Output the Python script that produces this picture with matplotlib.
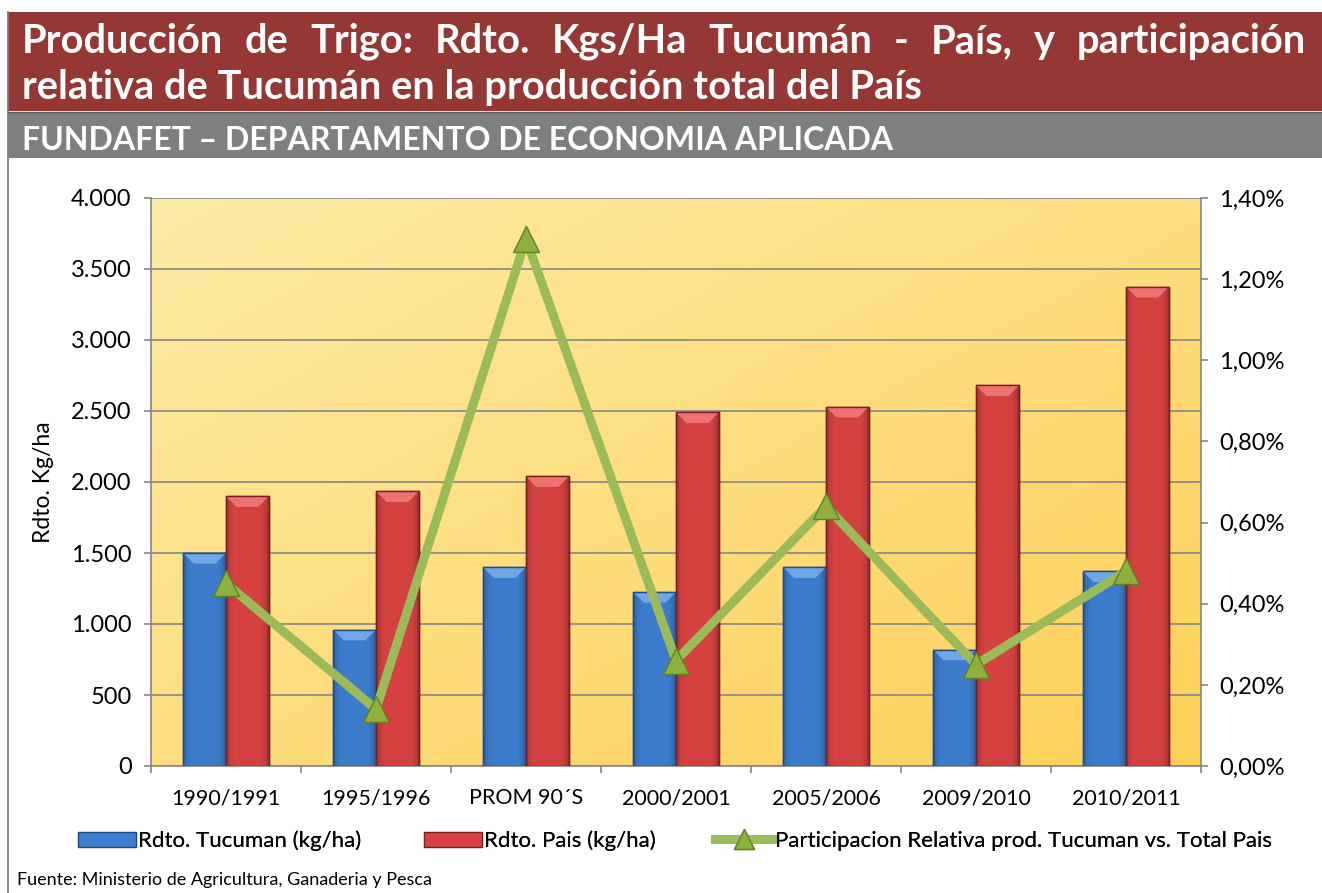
import numpy as np
import matplotlib
matplotlib.use("Agg")
import matplotlib.pyplot as plt
from matplotlib.patches import Rectangle, Polygon
from matplotlib.lines import Line2D
from matplotlib.ticker import FuncFormatter, FixedLocator

# ---------------- data ----------------
categories = ["1990/1991", "1995/1996", "PROM 90´S", "2000/2001", "2005/2006", "2009/2010", "2010/2011"]
rdto_tucuman = [1500, 960, 1400, 1225, 1400, 820, 1370]
rdto_pais = [1900, 1935, 2040, 2490, 2530, 2680, 3375]
participacion = [0.45, 0.14, 1.30, 0.26, 0.64, 0.25, 0.48]  # percent

title_line1 = "Producción de Trigo: Rdto. Kgs/Ha Tucumán - País, y participación"
title_line2 = "relativa de Tucumán en la producción total del País"
subtitle = "FUNDAFET – DEPARTAMENTO DE ECONOMIA APLICADA"
footer = "Fuente: Ministerio de Agricultura, Ganaderia y Pesca"
label_tuc = "Rdto. Tucuman (kg/ha)"
label_pais = "Rdto. Pais (kg/ha)"
label_part = "Participacion Relativa prod. Tucuman vs. Total Pais"

# ---------------- figure ----------------
W, H = 1322, 893
plt.rcParams['font.family'] = ['Lato', 'DejaVu Sans']
fig = plt.figure(figsize=(W / 100, H / 100), dpi=100)
fig.patch.set_facecolor('white')

def fx(x):
    return x / W

def fy(y):
    return 1 - y / H

# header bands
fig.patches.append(Rectangle((fx(8), fy(111)), fx(W - 8), 99 / H, transform=fig.transFigure,
                             facecolor='#953735', edgecolor='none'))
fig.patches.append(Rectangle((fx(8), fy(158)), fx(W - 8), 46 / H, transform=fig.transFigure,
                             facecolor='#7F7F7F', edgecolor='none'))
fig.add_artist(Line2D([fx(8), fx(8)], [0, fy(12)], color='#7F7F7F', lw=1.3, transform=fig.transFigure))
fig.add_artist(Line2D([fx(8), fx(W)], [fy(111.5), fy(111.5)], color='#5a5a5a', lw=1.0, transform=fig.transFigure))

fig.canvas.draw()
renderer = fig.canvas.get_renderer()

def fit_size(text, target_w, base=24, weight='bold'):
    t = fig.text(0, 0, text, fontsize=base, fontweight=weight)
    w = t.get_window_extent(renderer).width
    t.remove()
    return base * target_w / w

title_fs = fit_size(title_line2, 903)
# justified first line
words = title_line1.split()
tw = [fig.text(0, fy(53), w, fontsize=title_fs, fontweight='bold', color='white', va='baseline')
      for w in words]
widths = [t.get_window_extent(renderer).width for t in tw]
x0, x1 = 22, 1306
gap = (x1 - x0 - sum(widths)) / (len(words) - 1)
xc = x0
for t, wdt in zip(tw, widths):
    t.set_x(fx(xc))
    xc += wdt + gap
fig.text(fx(22), fy(99), title_line2, fontsize=title_fs, fontweight='bold', color='white', va='baseline')

sub_fs = fit_size(subtitle, 871)
fig.text(fx(22), fy(150), subtitle, fontsize=sub_fs, fontweight='bold', color='white', va='baseline')

# ---------------- axes ----------------
ax = fig.add_axes([fx(151), 127 / H, 1050 / W, 568 / H])
ax.set_zorder(1)

# gradient background
n = 256
gx, gy = np.meshgrid(np.linspace(0, 1, n), np.linspace(0, 1, n))
tpar = np.clip((gx + (1 - gy)) / 2, 0, 1)  # 0 top-left -> 1 bottom-right (origin lower)
c0 = np.array([254, 235, 166]) / 255
c1 = np.array([253, 208, 88]) / 255
img = c0[None, None, :] * (1 - tpar[..., None]) + c1[None, None, :] * tpar[..., None]
ax.imshow(img, extent=[0, 1, 0, 1], transform=ax.transAxes, aspect='auto', origin='lower', zorder=-5)

xs = np.arange(len(categories))
bw = 1 / 3.5
blue_face, blue_edge, blue_top = '#3C7DCD', '#1F4A85', '#7DB2EE'
red_face, red_edge, red_top = '#D64242', '#7A1E1E', '#F48080'

bars_b = ax.bar(xs - bw / 2, rdto_tucuman, bw, color=blue_face, edgecolor=blue_edge, lw=1.0, zorder=3)
bars_r = ax.bar(xs + bw / 2, rdto_pais, bw, color=red_face, edgecolor=red_edge, lw=1.0, zorder=3)

# horizontal shading inside bars (3D look)
prof = np.linspace(-1, 1, 64)
shade = (1 - 0.28 * np.abs(prof) ** 6)[None, :]
for bars, base in ((bars_b, blue_face), (bars_r, red_face)):
    rgb = np.array(matplotlib.colors.to_rgb(base))
    sh_img = np.clip(shade[..., None] * rgb[None, None, :], 0, 1)
    for rect in bars:
        xl, ww, hh = rect.get_x(), rect.get_width(), rect.get_height()
        im = ax.imshow(sh_img, extent=[xl, xl + ww, 0, hh], aspect='auto', zorder=3.2)
        im.set_clip_path(rect)

# bevel tops
bev_h = 75.0
bev_dx = 0.07
for xi, v in zip(xs - bw, rdto_tucuman):
    ax.add_patch(Polygon([(xi, v), (xi + bw, v), (xi + bw - bev_dx, v - bev_h), (xi + bev_dx, v - bev_h)],
                         closed=True, facecolor=blue_top, edgecolor='none', alpha=0.8, zorder=4))
for xi, v in zip(xs, rdto_pais):
    ax.add_patch(Polygon([(xi, v), (xi + bw, v), (xi + bw - bev_dx, v - bev_h), (xi + bev_dx, v - bev_h)],
                         closed=True, facecolor=red_top, edgecolor='none', alpha=0.8, zorder=4))
# redraw outlines on top
for rect in list(bars_b) + list(bars_r):
    ax.add_patch(Rectangle((rect.get_x(), 0), rect.get_width(), rect.get_height(), facecolor='none',
                           edgecolor=rect.get_edgecolor(), lw=1.0, zorder=4.5))

ax.set_xlim(-0.5, len(categories) - 0.5)
ax.set_ylim(0, 4000)
ax.set_yticks(np.arange(0, 4001, 500))
ax.yaxis.set_major_formatter(FuncFormatter(lambda v, p: f"{int(v):,}".replace(",", ".")))
ax.yaxis.grid(True, color='#868686', lw=1.2)
ax.set_axisbelow(True)
ax.set_xticks(xs)
ax.set_xticklabels(categories)
ax.xaxis.set_minor_locator(FixedLocator(np.arange(-0.5, len(categories), 1.0)))

grey = '#868686'
for s in ['top', 'right']:
    ax.spines[s].set_visible(False)
for s in ['left', 'bottom']:
    ax.spines[s].set_color(grey)
    ax.spines[s].set_linewidth(1.2)

ax.tick_params(axis='y', length=5, width=1.2, color=grey, labelsize=17, pad=9, labelcolor='black')
ax.tick_params(axis='x', which='major', length=0, labelsize=15.5, pad=16, labelcolor='black')
ax.tick_params(axis='x', which='minor', length=5, width=1.2, color=grey)

ax.set_ylabel("Rdto. Kg/ha", fontsize=16.5)
ax.yaxis.set_label_coords((54 - 151) / 1050, 0.5)

ax2 = ax.twinx()
ax2.set_ylim(0, 1.4)
ax2.set_yticks(np.arange(0, 1.401, 0.2))
ax2.yaxis.set_major_formatter(FuncFormatter(lambda v, p: f"{v:.2f}%".replace(".", ",")))
for s in ['top', 'left', 'bottom']:
    ax2.spines[s].set_visible(False)
ax2.spines['right'].set_color(grey)
ax2.spines['right'].set_linewidth(1.2)
ax2.tick_params(axis='y', length=5, width=1.2, color=grey, labelsize=17, pad=8, labelcolor='black')

line_color = '#9BBB59'
ax2.plot(xs, participacion, color=line_color, lw=6.5, solid_joinstyle='miter', zorder=5)
ax2.plot(xs, participacion, ls='none', marker='^', ms=19, mfc='#8DB03E', mec='#647F27', mew=1.0, zorder=6)

# ---------------- legend ----------------
h1 = Rectangle((0, 0), 1, 1, facecolor=blue_face, edgecolor=blue_edge, lw=0.9)
h2 = Rectangle((0, 0), 1, 1, facecolor=red_face, edgecolor=red_edge, lw=0.9)
h3 = Line2D([], [], color=line_color, lw=6.5, marker='^', ms=15, mfc='#8DB03E', mec='#647F27', mew=1.0)
leg_fs = 16
for h, lab, xpos in ((h1, label_tuc, 78), (h2, label_pais, 424), (h3, label_part, 715)):
    lg = fig.legend([h], [lab], loc='center left', bbox_to_anchor=(fx(xpos), fy(841)), frameon=False,
                    fontsize=leg_fs, handlelength=2.6, handleheight=0.65, handletextpad=0.1,
                    borderpad=0, borderaxespad=0)
    fig.add_artist(lg)

fig.text(fx(17), fy(880), footer, fontsize=13, va='center', color='black')

fig.savefig("out.png", dpi=100)
